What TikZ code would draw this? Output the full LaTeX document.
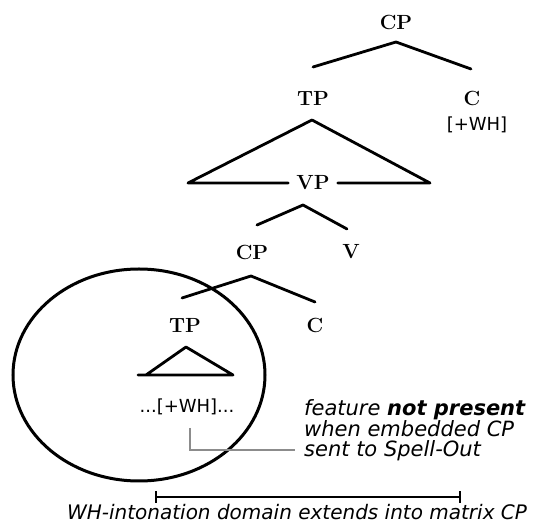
\documentclass[tikz,border=0pt]{standalone}
\usepackage{fontspec}
\usetikzlibrary{shapes.geometric}
\newfontfamily\dvsans{DejaVu Sans}
\begin{document}
\begin{tikzpicture}[x=1pt,y=-1pt,
  lbl/.style={font=\fontsize{20.5}{24}\selectfont\bfseries, inner sep=0pt},
  branch/.style={line width=2.8pt, line cap=round, line join=round},
  feat/.style={font=\dvsans\fontsize{18}{20}\selectfont, inner sep=0pt},
  note/.style={font=\dvsans\itshape\fontsize{21}{20}\selectfont, inner sep=0pt, align=left},
  bottomnote/.style={font=\dvsans\itshape\fontsize{20}{20}\selectfont, inner sep=0pt},
  ring/.style={line width=3pt},
  pointer/.style={line width=2.6pt, draw=black!45}]
\useasboundingbox (0,0) rectangle (536,526);
% top level
\node[lbl] (cpA) at (396,22) {CP};
\coordinate (a1) at (396,42);
\coordinate (l1) at (313,67);
\coordinate (r1) at (471,69);
\draw[branch] (l1) -- (a1) -- (r1);
\node[lbl] (tpA) at (313,98) {TP};
\node[lbl] (cA) at (472,98) {C};
\node[feat] (whA) at (477,125) {[+WH]};
% TP triangle
\coordinate (a2) at (312,120);
\coordinate (bl2) at (188,183);
\coordinate (br2) at (430,183);
\node[lbl, inner xsep=8pt] (vp) at (313,183) {VP};
\draw[branch] (vp.west |- bl2) -- (bl2) -- (a2) -- (br2) -- (vp.east |- br2);
% VP branches
\coordinate (a3) at (303,205);
\coordinate (l3) at (257,225);
\coordinate (r3) at (347,229);
\draw[branch] (l3) -- (a3) -- (r3);
\node[lbl] (cpB) at (252,252) {CP};
\node[lbl] (v) at (351,252) {V};
% embedded CP
\coordinate (a4) at (251,276);
\coordinate (l4) at (182,298);
\coordinate (r4) at (315,302);
\draw[branch] (l4) -- (a4) -- (r4);
\node[lbl] (tpB) at (185,325) {TP};
\node[lbl] (cB) at (315,325) {C};
% small triangle
\coordinate (a5) at (186,347);
\coordinate (bl5) at (146,375);
\coordinate (br5) at (233,375);
\coordinate (bb5) at (138,375);
\draw[branch] (bb5) -- (br5) -- (a5) -- (bl5);
\node[feat] (dots) at (187,407) {...[+WH]...};
% spell-out domain
\node[draw, ring, ellipse, minimum width=252pt, minimum height=212pt, inner sep=0pt] (dom) at (139,375) {};
% pointer
\node[note, anchor=west] (expl) at (304,430) {feature \textbf{not present}\\when embedded CP\\sent to Spell-Out};
\coordinate (g0) at (190,428);
\coordinate (g1) at (190,450);
\coordinate (g2) at (295,450);
\draw[pointer] (g0) -- (g1) -- (g2);
% intonation domain
\coordinate (s0) at (156,497);
\coordinate (s1) at (460,497);
\draw[line width=2.8pt] (s0) -- (s1);
\draw[line width=2.8pt] ([yshift=-6pt]s0) -- ([yshift=6pt]s0);
\draw[line width=2.8pt] ([yshift=-6pt]s1) -- ([yshift=6pt]s1);
\node[bottomnote] (dom2) at (297,512) {WH-intonation domain extends into matrix CP};
\end{tikzpicture}
\end{document}
